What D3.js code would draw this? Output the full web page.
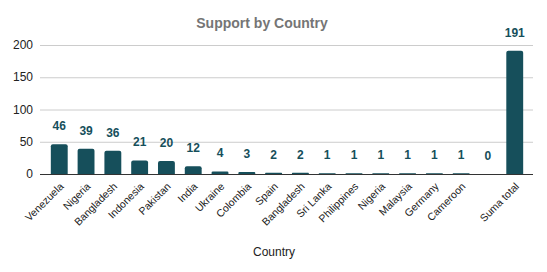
<!DOCTYPE html>
<html>
<head>
<meta charset="utf-8">
<script src="https://cdn.jsdelivr.net/npm/d3@7"></script>
<style>
  body { margin: 0; background: #fff; }
  svg { font-family: "Liberation Sans", Arial, sans-serif; }
</style>
</head>
<body>
<div id="chart"></div>
<script>
const countries = ["Venezuela", "Nigeria", "Bangladesh", "Indonesia", "Pakistan", "India", "Ukraine",
	"Colombia", "Spain", "Bangladesh ", "Sri Lanka", "Philippines", "Nigeria ", "Malaysia", "Germany",
	"Cameroon", "", "Suma total"];
const support = [46, 39, 36, 21, 20, 12, 4, 3, 2, 2, 1, 1, 1, 1, 1, 1, 0, 191];
const yTicks = [0, 50, 100, 150, 200];

const width = 547;
const height = 272;
const color = "#164f5b";

const svg = d3.select("#chart").append("svg").attr("width", width).attr("height", height);

const x = d3.scaleBand().domain(countries.map((d, i) => i)).range([46, 528]).paddingInner(0.37).paddingOuter(0.18);
const y = d3.scaleLinear().domain([0, 200]).range([174, 45]);

// grid
svg.append("g")
	.selectAll("line")
	.data(yTicks.slice(1))
	.join("line")
	.attr("x1", 40)
	.attr("x2", 533)
	.attr("y1", (d) => y(d) + 0.5)
	.attr("y2", (d) => y(d) + 0.5)
	.attr("stroke", "#cccccc");

svg.append("g")
	.selectAll("text")
	.data(yTicks)
	.join("text")
	.attr("x", 33)
	.attr("y", (d) => y(d) + 4)
	.attr("text-anchor", "end")
	.attr("font-size", 12)
	.attr("fill", "#222")
	.text((d) => d);

// bars with rounded top
const bw = x.bandwidth();
svg.append("g")
	.selectAll("path")
	.data(support)
	.join("path")
	.attr("fill", color)
	.attr("d", (d, i) => {
		const x0 = x(i), top = y(d), base = y(0);
		const r = Math.min(2, (base - top) / 2);
		return `M${x0},${base}V${top + r}Q${x0},${top} ${x0 + r},${top}H${x0 + bw - r}Q${x0 + bw},${top} ${x0 + bw},${top + r}V${base}Z`;
	});

svg.append("line")
	.attr("x1", 40)
	.attr("x2", 533)
	.attr("y1", y(0) + 0.5)
	.attr("y2", y(0) + 0.5)
	.attr("stroke", "#333")
	.attr("stroke-width", 1);

// value labels
svg.append("g")
	.selectAll("text")
	.data(support)
	.join("text")
	.attr("x", (d, i) => x(i) + bw / 2)
	.attr("y", (d) => y(d) - 14)
	.attr("text-anchor", "middle")
	.attr("font-size", 12)
	.attr("font-weight", "bold")
	.attr("fill", color)
	.text((d) => d);

// x labels
svg.append("g")
	.selectAll("text")
	.data(countries)
	.join("text")
	.attr("transform", (d, i) => `translate(${x(i) + bw / 2 + 5},${187}) rotate(-45)`)
	.attr("text-anchor", "end")
	.attr("font-size", 10.5)
	.attr("fill", "#222")
	.text((d) => d.trim());

svg.append("text")
	.attr("x", 274)
	.attr("y", 256)
	.attr("text-anchor", "middle")
	.attr("font-size", 12)
	.attr("fill", "#222")
	.text("Country");

svg.append("text")
	.attr("x", 262)
	.attr("y", 28)
	.attr("text-anchor", "middle")
	.attr("font-size", 14)
	.attr("font-weight", "bold")
	.attr("fill", "#757575")
	.text("Support by Country");
</script>
</body>
</html>
